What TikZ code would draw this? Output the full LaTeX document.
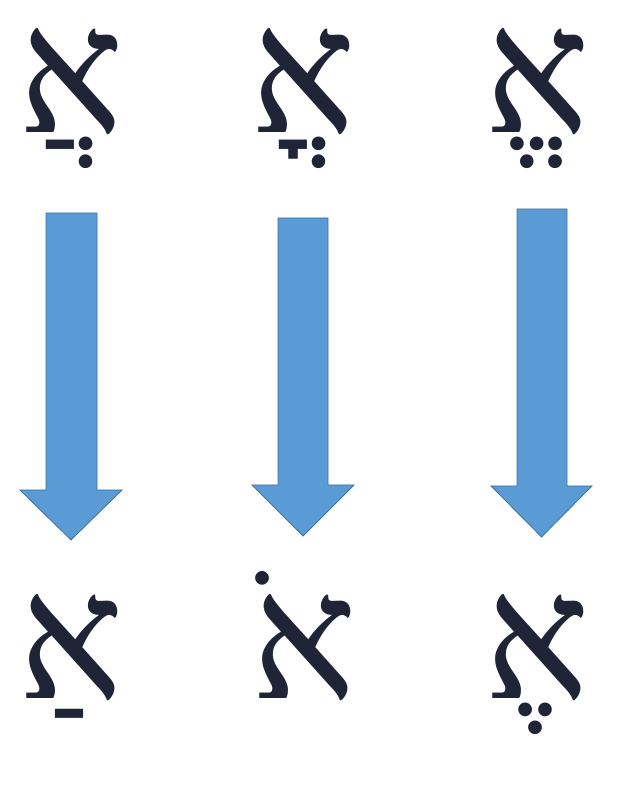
\documentclass[tikz,border=0pt]{standalone}
\usepackage{fontspec}
\newfontfamily\hebfont[Script=Hebrew]{Liberation Serif}
\TeXXeTstate=1
\definecolor{ink}{HTML}{1F2537}
\definecolor{arrowfill}{HTML}{5B9BD5}
\definecolor{arrowline}{HTML}{41719C}
\tikzset{
  heb/.style={text=ink, inner sep=0pt, anchor=base, text height=108pt, text depth=40pt,
    font=\hebfont\fontsize{176}{176}\selectfont},
  blockarrow/.style={fill=arrowfill, draw=arrowline, line width=0.8pt, line join=miter}
}
\newcommand{\blockarr}[7]{% shaft left, shaft right, top, head y, wing left, wing right, tip y
  \draw[blockarrow] (#1,800-#3) -- (#2,800-#3) -- (#2,800-#4) -- (#6,800-#4)
    -- ({(#5+#6)/2},800-#7) -- (#5,800-#4) -- (#1,800-#4) -- cycle;}
\begin{document}
\begin{tikzpicture}[x=1pt,y=1pt]
\useasboundingbox (0,0) rectangle (641,800);
\node[heb] (t1) at (71,667) {\beginR אֲ\endR};
\node[heb] (t2) at (303.5,667) {\beginR אֳ\endR};
\node[heb] (t3) at (537.5,667) {\beginR אֱ\endR};
\node[heb] (b1) at (71,101) {\beginR אַ\endR};
\node[heb] (b2) at (304.5,101) {\beginR אֹ\endR};
\node[heb] (b3) at (537,101) {\beginR אֶ\endR};
\blockarr{46}{97}{213}{490}{20}{122}{540}
\blockarr{278}{328}{218}{485}{252}{354}{536}
\blockarr{517}{567}{209}{486}{491}{592}{537}
\end{tikzpicture}
\end{document}
